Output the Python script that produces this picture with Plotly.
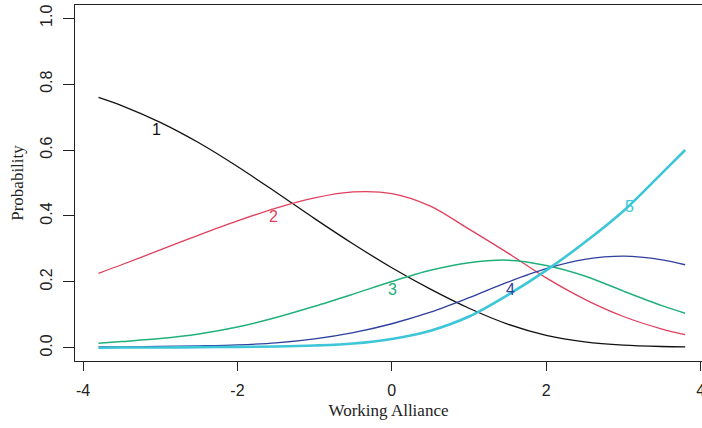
import plotly.graph_objects as go

# Working Alliance (theta) sample points
theta = [-3.8, -3.5, -3.0, -2.5, -2.0, -1.5, -1.0, -0.5, 0.0, 0.5, 1.0, 1.5, 2.0, 2.5, 3.0, 3.5, 3.8]

# Category probability curves
cat1 = [0.760, 0.735, 0.684, 0.622, 0.550, 0.472, 0.392, 0.315, 0.243, 0.178, 0.120, 0.072, 0.038, 0.018, 0.008, 0.004, 0.003]
cat2 = [0.226, 0.252, 0.297, 0.342, 0.385, 0.424, 0.455, 0.473, 0.468, 0.430, 0.360, 0.288, 0.212, 0.147, 0.095, 0.057, 0.040]
cat3 = [0.014, 0.019, 0.028, 0.042, 0.063, 0.092, 0.126, 0.163, 0.201, 0.235, 0.258, 0.266, 0.250, 0.218, 0.172, 0.128, 0.105]
cat4 = [0.003, 0.003, 0.004, 0.006, 0.009, 0.015, 0.027, 0.046, 0.073, 0.108, 0.152, 0.199, 0.240, 0.268, 0.278, 0.267, 0.252]
cat5 = [0.000, 0.001, 0.001, 0.002, 0.003, 0.004, 0.007, 0.013, 0.027, 0.052, 0.095, 0.160, 0.235, 0.320, 0.415, 0.530, 0.600]

labels = ["1", "2", "3", "4", "5"]
label_x = [-3.05, -1.53, 0.01, 1.54, 3.08]
label_y = [0.661, 0.399, 0.177, 0.178, 0.428]

colors = ["#111111", "#DF3F5C", "#22B07A", "#2E3F9E", "#3CC6D8"]
widths = [1.3, 1.3, 1.5, 1.3, 2.6]
series = [cat1, cat2, cat3, cat4, cat5]

fig = go.Figure()
for s, c, w in zip(series, colors, widths):
    fig.add_trace(go.Scatter(x=theta, y=s, mode="lines",
                             line=dict(color=c, width=w, shape="spline", smoothing=0.9),
                             showlegend=False, hoverinfo="skip"))

for t, lx, ly, c in zip(labels, label_x, label_y, colors):
    fig.add_annotation(x=lx, y=ly, text=t, showarrow=False,
                       font=dict(family="Liberation Sans, Arial, sans-serif", size=16, color=c))

tickfont = dict(family="Liberation Sans, Arial, sans-serif", size=16, color="#222222")
titlefont = dict(family="Liberation Serif, Times New Roman, serif", size=17, color="#222222")

fig.update_layout(
    width=702, height=428,
    margin=dict(l=75, r=0, t=5, b=67),
    paper_bgcolor="white", plot_bgcolor="white",
    xaxis=dict(range=[-4.104, 4.018], tickvals=[-4, -2, 0, 2, 4], ticktext=["-4", "-2", "0", "2", "4"],
               showgrid=False, zeroline=False, showline=True, linecolor="#222222", linewidth=1,
               mirror=True, ticks="outside", ticklen=9, tickcolor="#222222", tickwidth=1,
               tickfont=tickfont, ticklabelstandoff=6, automargin=False, ticklabeloverflow="allow",
               title=dict(text="Working Alliance", font=titlefont, standoff=5)),
    yaxis=dict(range=[-0.04, 1.04], tickvals=[0, 0.2, 0.4, 0.6, 0.8, 1.0],
               ticktext=["0.0", "0.2", "0.4", "0.6", "0.8", "1.0"], tickangle=-90,
               showgrid=False, zeroline=False, showline=True, linecolor="#222222", linewidth=1,
               mirror=False, ticks="outside", ticklen=11, tickcolor="#222222", tickwidth=1,
               tickfont=tickfont, ticklabelstandoff=5, automargin=False,
               title=dict(text="Probability", font=titlefont, standoff=9)),
)

fig.write_html("out.html", config={"displayModeBar": False},
               post_script="document.body.style.margin='0px';")
